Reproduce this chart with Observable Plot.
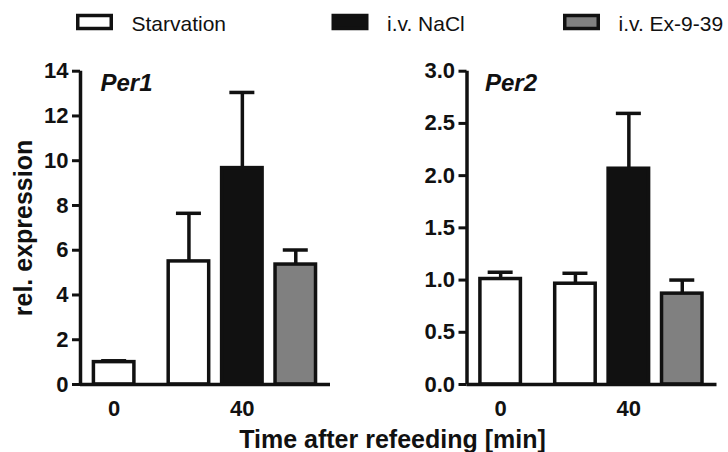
<!DOCTYPE html>
<html><head><meta charset="utf-8">
<script src="https://cdn.jsdelivr.net/npm/d3@7"></script>
<script src="https://cdn.jsdelivr.net/npm/@observablehq/plot@0.6"></script>
<style>
body{margin:0;background:#fff;}
#fig{position:relative;width:728px;height:452px;overflow:hidden;background:#fff;font-family:"Liberation Sans",Arial,Helvetica,sans-serif;}
#fig > svg{position:absolute;}
</style></head><body><div id="fig"></div>
<script>
// ---- data ----
const treatments = ["Starvation", "i.v. NaCl", "i.v. Ex-9-39"];
const fills = ["#ffffff", "#111111", "#808080"];
const barTime = ["0", "40", "40", "40"];
const barTreatment = ["Starvation", "Starvation", "i.v. NaCl", "i.v. Ex-9-39"];
const per1Mean = [1.0, 5.5, 9.67, 5.36];
const per1Sem = [0.06, 2.15, 3.38, 0.65];
const per2Mean = [1.01, 0.965, 2.066, 0.87];
const per2Sem = [0.065, 0.10, 0.53, 0.13];
const per1Ticks = [0, 2, 4, 6, 8, 10, 12, 14];
const per2Ticks = [0, 0.5, 1.0, 1.5, 2.0, 2.5, 3.0];
const xTitle = "Time after refeeding [min]";
const yTitle = "rel. expression";

// ---- layout helpers ----
const FONT = '"Liberation Sans", Arial, Helvetica, sans-serif';
const groupGap = 0.4;
const slots = [];
{ let p = 0; barTime.forEach((t, i) => { if (i > 0) { p += 1; if (t !== barTime[i - 1]) p += groupGap; } slots.push(p); }); }
const groupCenters = new Map();
for (const t of new Set(barTime)) groupCenters.set(t, d3.mean(slots.filter((s, i) => barTime[i] === t)));
const centerValues = [...groupCenters.values()];
const centerLabel = new Map([...groupCenters].map(([t, c]) => [c, t]));
const X0 = -0.63, X1 = 4.05;
const halfBar = 0.379, halfCap = 0.234;

function panel({name, means, sems, ticks, yMax, fmt, width, marginLeft, nameDx}) {
  const data = barTime.map((t, i) => ({time: t, treatment: barTreatment[i], pos: slots[i], mean: means[i], top: means[i] + sems[i]}));
  return Plot.plot({
    width, height: 385,
    marginTop: 30.7, marginBottom: 41, marginLeft, marginRight: width - marginLeft - 250,
    x: {domain: [X0, X1], axis: null, label: null},
    y: {domain: [0, yMax], axis: null, label: null},
    color: {domain: treatments, range: fills},
    style: {fontFamily: FONT, fontWeight: "bold", background: "transparent", overflow: "visible", color: "#111"},
    marks: [
      Plot.ruleX(data, {x: "pos", y1: "mean", y2: "top", stroke: "#111", strokeWidth: 3.5}),
      Plot.ruleY(data, {y: "top", x1: d => d.pos - halfCap, x2: d => d.pos + halfCap, stroke: "#111", strokeWidth: 3.5}),
      Plot.rect(data, {x1: d => d.pos - halfBar, x2: d => d.pos + halfBar, y1: 0, y2: "mean", fill: "treatment", stroke: "#111", strokeWidth: 3.5}),
      Plot.axisY({anchor: "left", label: null, ticks, tickSize: 8, tickPadding: 4, tickFormat: fmt, fontSize: 22, fontWeight: "bold", strokeWidth: 3, stroke: "#111"}),
      Plot.axisX({anchor: "bottom", label: null, ticks: centerValues, tickSize: 0, tickPadding: 16, tickFormat: d => centerLabel.get(d), fontSize: 22, fontWeight: "bold"}),
      Plot.ruleX([X0], {y1: 0, y2: yMax, stroke: "#111", strokeWidth: 3.5}),
      Plot.ruleY([0], {stroke: "#111", strokeWidth: 3.5}),
      Plot.text([name], {frameAnchor: "top-left", textAnchor: "start", lineAnchor: "top", dx: nameDx, dy: 3, fontSize: 24, fontStyle: "italic", fontWeight: "bold", fill: "#111"})
    ]
  });
}

const fig = document.getElementById("fig");
const p1 = panel({name: "Per1", means: per1Mean, sems: per1Sem, ticks: per1Ticks, yMax: 14, fmt: d3.format("d"), width: 370, marginLeft: 80, nameDx: 20});
p1.style.left = "0px"; p1.style.top = "40px";
const p2 = panel({name: "Per2", means: per2Mean, sems: per2Sem, ticks: per2Ticks, yMax: 3, fmt: d3.format(".1f"), width: 358, marginLeft: 96.5, nameDx: 18});
p2.style.left = "370px"; p2.style.top = "40px";
fig.append(p1, p2);

// ---- legend and titles overlay ----
const ov = d3.select(fig).append("svg").attr("width", 728).attr("height", 452)
  .style("left", "0px").style("top", "0px").style("pointer-events", "none")
  .style("font-family", FONT);
const legendX = [76, 331.5, 563];
const leg = ov.selectAll("g.leg").data(treatments).join("g").attr("class", "leg")
  .attr("transform", (d, i) => `translate(${legendX[i]},0)`);
leg.append("rect").attr("x", 1.75).attr("y", 15.5).attr("width", 33.5).attr("height", 13)
  .attr("fill", (d, i) => fills[i]).attr("stroke", "#111").attr("stroke-width", 3.5);
leg.append("text").attr("x", 55.5).attr("y", 31).attr("font-size", 21).attr("fill", "#111").text(d => d);

ov.append("text").attr("transform", "translate(32,228) rotate(-90)").attr("text-anchor", "middle")
  .attr("font-size", 25).attr("font-weight", "bold").attr("fill", "#111").text(yTitle);
ov.append("text").attr("x", 392.5).attr("y", 447.5).attr("text-anchor", "middle")
  .attr("font-size", 25).attr("font-weight", "bold").attr("fill", "#111").text(xTitle);
</script>
</body></html>
